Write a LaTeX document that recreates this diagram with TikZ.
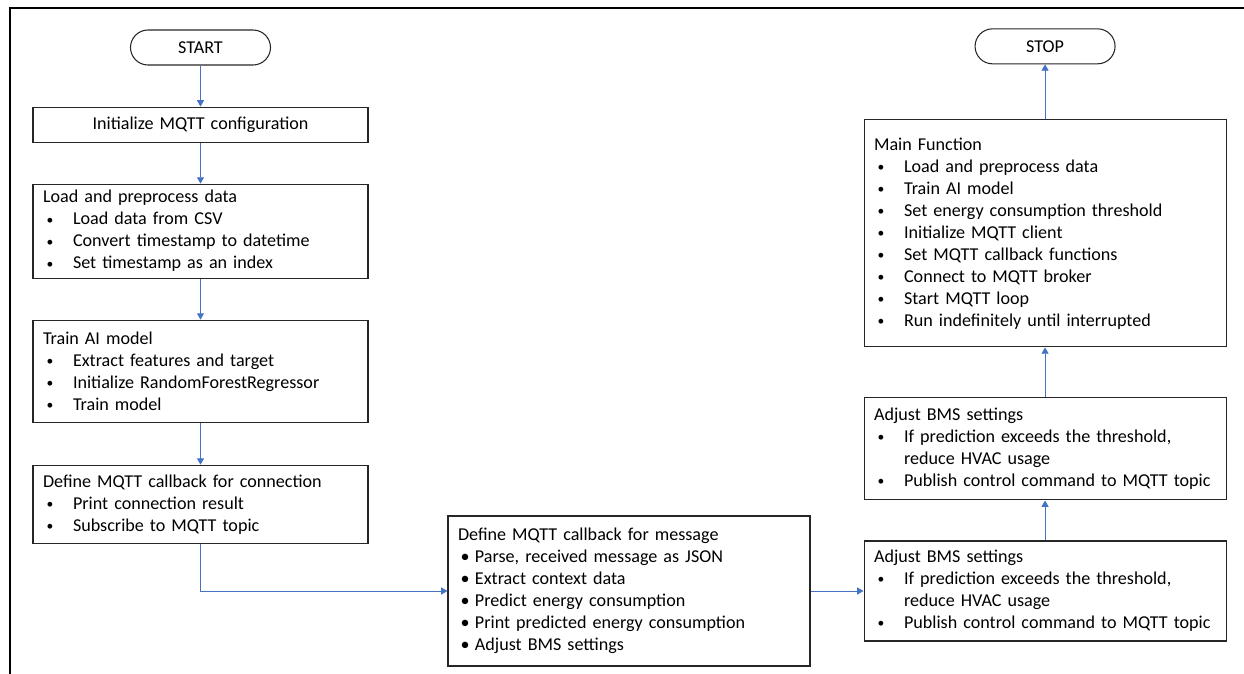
\documentclass[tikz,border=0pt]{standalone}
\usepackage{fontspec}
\setmainfont{Carlito}
\usetikzlibrary{arrows.meta,positioning}
\definecolor{flowblue}{RGB}{68,114,196}
\newcommand{\bul}{\makebox[0.6cm][l]{\hspace{2pt}\raisebox{0.5pt}{\scalebox{0.75}{\textbullet}}}}
\newcommand{\sbul}{\makebox[0.34cm][l]{\hspace{1.5pt}\textbullet}}

\begin{document}
\begin{tikzpicture}[
  font=\fontsize{10.3}{12.52}\selectfont,
  term/.style={draw=black!85,rounded corners=3.5mm,minimum width=2.8cm,minimum height=0.7cm,line width=0.6pt},
  proc/.style={draw=black!85,line width=0.6pt,text width=6.3cm,inner xsep=0.2cm,inner ysep=2pt,align=left},
  wide/.style={proc,text width=6.84cm},
  arrow/.style={-{Triangle[length=3.6pt,width=4pt]},flowblue,line width=0.5pt},
  node distance=0.82cm
]
\useasboundingbox (0,0) rectangle (24.88,-13.48);
\draw[line width=1.4pt] (0.2,-13.48) -- (0.2,-0.16) -- (24.88,-0.16);
\node[term] (start) at (4.01,-0.95) {START};
\node[proc,align=center,minimum height=0.7cm,below=of start] (init) {Initialize MQTT configuration};
\node[proc,minimum height=1.88cm,below=of init] (load) {Load and preprocess data\\
  \bul Load data from CSV\\ \bul Convert timestamp to datetime\\ \bul Set timestamp as an index};
\node[proc,minimum height=2.04cm,below=of load] (train) {Train AI model\\
  \bul Extract features and target\\ \bul Initialize RandomForestRegressor\\ \bul Train model};
\node[proc,minimum height=1.56cm,below=0.84cm of train] (conn) {Define MQTT callback for connection\\
  \bul Print connection result\\ \bul Subscribe to MQTT topic};
\node[wide,minimum height=3.0cm] (msg) at (12.58,-11.82) {Define MQTT callback for message\\
  \sbul Parse, received message as JSON\\ \sbul Extract context data\\ \sbul Predict energy consumption\\
  \sbul Print predicted energy consumption\\ \sbul Adjust BMS settings};
\node[wide,minimum height=2.0cm,right=1.06cm of msg] (bms1) {Adjust BMS settings\\
  \bul If prediction exceeds the threshold,\\ \hspace*{0.6cm}reduce HVAC usage\\ \bul Publish control command to MQTT topic};
\node[wide,minimum height=2.04cm,above=0.8cm of bms1] (bms2) {Adjust BMS settings\\
  \bul If prediction exceeds the threshold,\\ \hspace*{0.6cm}reduce HVAC usage\\ \bul Publish control command to MQTT topic};
\node[wide,minimum height=4.54cm,above=1.0cm of bms2] (main) {Main Function\\
  \bul Load and preprocess data\\ \bul Train AI model\\ \bul Set energy consumption threshold\\
  \bul Initialize MQTT client\\ \bul Set MQTT callback functions\\ \bul Connect to MQTT broker\\
  \bul Start MQTT loop\\ \bul Run indefinitely until interrupted};
\node[term,above=1.1cm of main] (stop) {STOP};
\draw[arrow] (start) -- (init);
\draw[arrow] (init) -- (load);
\draw[arrow] (load) -- (train);
\draw[arrow] (train) -- (conn);
\draw[arrow] (conn.south) |- (msg.west);
\draw[arrow] (msg) -- (bms1);
\draw[arrow] (bms1) -- (bms2);
\draw[arrow] (bms2) -- (main);
\draw[arrow] (main) -- (stop);
\end{tikzpicture}
\end{document}
